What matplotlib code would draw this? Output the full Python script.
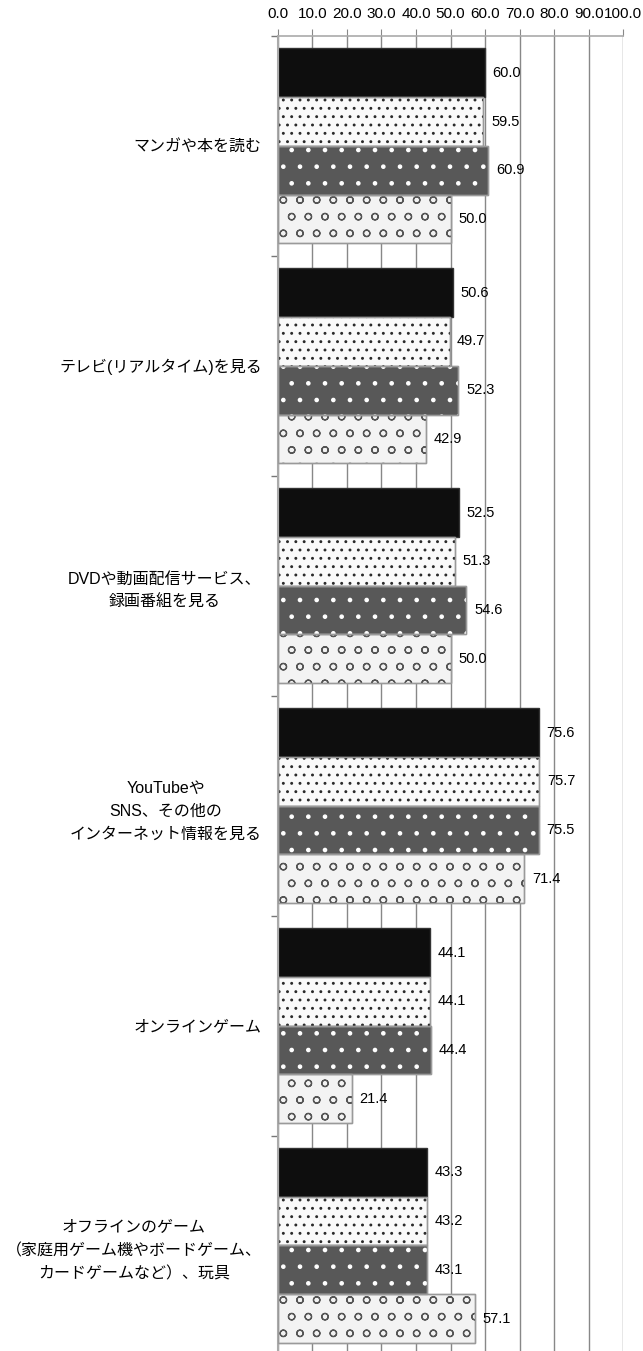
import numpy as np
import matplotlib
matplotlib.use("Agg")
import matplotlib.pyplot as plt

plt.rcParams["font.family"] = ["Liberation Sans", "Noto Sans CJK JP", "DejaVu Sans"]
plt.rcParams["hatch.linewidth"] = 0.9

categories = [
    "マンガや本を読む",
    "テレビ(リアルタイム)を見る",
    "DVDや動画配信サービス、\n録画番組を見る",
    "YouTubeや\nSNS、その他の\nインターネット情報を見る",
    "オンラインゲーム",
    "オフラインのゲーム\n（家庭用ゲーム機やボードゲーム、\nカードゲームなど）、玩具",
]
s1 = [60.0, 50.6, 52.5, 75.6, 44.1, 43.3]
s2 = [59.5, 49.7, 51.3, 75.7, 44.1, 43.2]
s3 = [60.9, 52.3, 54.6, 75.5, 44.4, 43.1]
s4 = [50.0, 42.9, 50.0, 71.4, 21.4, 57.1]
xticks = np.arange(0, 101, 10)

# (values, face, hatch, hatch colour)
series = [
    (s1, "#0e0e0e", None, None),
    (s2, "#fafafa", "..", "#2a2a2a"),
    (s3, "#585858", ".", "#ffffff"),
    (s4, "#f3f3f3", "o", "#555555"),
]

fig = plt.figure(figsize=(6.43, 13.51), dpi=100)
ax = fig.add_axes([0.432, -0.0033, 0.5374, 0.9767])

y = np.arange(len(categories))
h = 0.2215
for k, (vals, face, hatch, hc) in enumerate(series):
    pos = y + (k - 1.5) * h
    edge = "#333333" if k == 0 else "#9a9a9a"
    ax.barh(pos, vals, height=h, color=face, edgecolor=edge, linewidth=1.0, zorder=2)
    if hatch:
        ax.barh(pos, vals, height=h, color="none", edgecolor=hc, hatch=hatch,
                linewidth=0, zorder=3)
        ax.barh(pos, vals, height=h, color="none", edgecolor=edge, linewidth=1.0, zorder=4)
    for p, v in zip(pos, vals):
        ax.text(v + 2.2, p, f"{v:.1f}", va="center", ha="left", fontsize=10.5, zorder=5)

ax.set_xlim(0, 100)
ax.set_ylim(len(categories) - 0.5, -0.5)
ax.set_xticks(xticks)
ax.set_xticklabels([f"{t:.1f}" for t in xticks], fontsize=11)
ax.xaxis.tick_top()
ax.tick_params(axis="x", length=5, color="#888888", pad=6)
ax.set_yticks(y)
ax.set_yticklabels(categories, fontsize=11.5, linespacing=1.67, ma="center")
ax.set_yticks(np.arange(len(categories) + 1) - 0.5, minor=True)
ax.tick_params(axis="y", which="major", length=0, pad=11.5)
ax.tick_params(axis="y", which="minor", length=5, color="#777777", width=1)
ax.grid(axis="x", color="#888888", linewidth=1.0)
ax.set_axisbelow(True)
for s in ["right", "bottom"]:
    ax.spines[s].set_visible(False)
ax.spines["left"].set_color("#aaaaaa")
ax.spines["left"].set_linewidth(1.5)
ax.spines["top"].set_color("#aaaaaa")
ax.spines["top"].set_linewidth(1.2)

fig.savefig("out.png", dpi=100)
